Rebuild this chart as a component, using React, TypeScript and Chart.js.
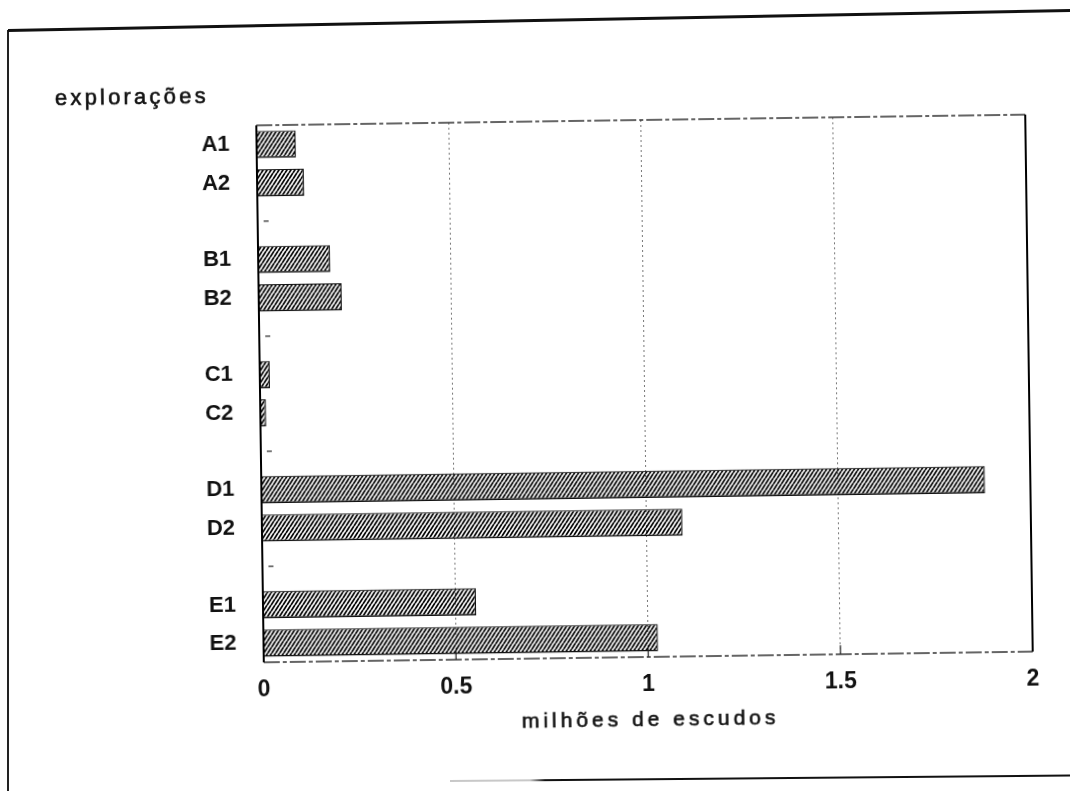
import React, { useEffect, useRef } from 'react';
import { Chart, registerables } from 'chart.js';

Chart.register(...registerables);

// ---- data ----
const categories = ['A1', 'A2', '', 'B1', 'B2', '', 'C1', 'C2', '', 'D1', 'D2', '', 'E1', 'E2'];
const values: (number | null)[] = [0.102, 0.122, null, 0.187, 0.216, null, 0.026, 0.015, null, 1.882, 1.094, null, 0.554, 1.026];
const xTickValues = [0, 0.5, 1, 1.5, 2];
const xTickLabels = ['0', '0.5', '1', '1.5', '2'];
const yAxisTitle = 'explorações';
const xAxisTitle = 'milhões de escudos';

const FONT = "'Liberation Sans', Arial, Helvetica, sans-serif";

function makeHatch(): CanvasPattern | string {
  const c = document.createElement('canvas');
  c.width = 4;
  c.height = 6;
  const g = c.getContext('2d');
  if (!g) return '#555';
  g.strokeStyle = '#000';
  g.lineWidth = 1.75;
  g.beginPath();
  for (const dx of [-4, 0, 4]) {
    g.moveTo(dx, 6);
    g.lineTo(dx + 4, 0);
  }
  g.stroke();
  return g.createPattern(c, 'repeat') || '#555';
}

const framePlugin = {
  id: 'scanFrame',
  afterDatasetsDraw(chart: any) {
    const { ctx, chartArea: a, scales } = chart;
    ctx.save();
    // small marks at the empty category slots
    ctx.strokeStyle = '#222';
    ctx.lineWidth = 1.2;
    categories.forEach((c, i) => {
      if (c === '') {
        const y = scales.y.getPixelForValue(i);
        ctx.beginPath();
        ctx.moveTo(a.left + 6, y);
        ctx.lineTo(a.left + 11, y);
        ctx.stroke();
      }
    });
    // short inner ticks on the bottom axis
    xTickValues.forEach((v) => {
      if (v > xTickValues[0] && v < xTickValues[xTickValues.length - 1]) {
        const x = scales.x.getPixelForValue(v);
        ctx.beginPath();
        ctx.moveTo(x, a.bottom);
        ctx.lineTo(x, a.bottom - 9);
        ctx.stroke();
      }
    });
    // top and bottom of the plot box
    ctx.strokeStyle = '#333';
    ctx.lineWidth = 1.3;
    ctx.setLineDash([16, 3, 4, 3]);
    ctx.beginPath();
    ctx.moveTo(a.left, a.top);
    ctx.lineTo(a.right, a.top);
    ctx.moveTo(a.left, a.bottom);
    ctx.lineTo(a.right, a.bottom);
    ctx.stroke();
    // left and right of the plot box
    ctx.setLineDash([]);
    ctx.strokeStyle = '#000';
    ctx.lineWidth = 2;
    ctx.beginPath();
    ctx.moveTo(a.left, a.top);
    ctx.lineTo(a.left, a.bottom);
    ctx.moveTo(a.right, a.top);
    ctx.lineTo(a.right, a.bottom);
    ctx.stroke();
    ctx.restore();
  },
};

export default function App() {
  const ref = useRef<HTMLCanvasElement | null>(null);

  useEffect(() => {
    if (!ref.current) return;
    const hatch = makeHatch();
    const chart = new Chart(ref.current, {
      type: 'bar',
      data: {
        labels: categories,
        datasets: [
          {
            data: values as any,
            backgroundColor: hatch as any,
            borderColor: '#111',
            borderWidth: { top: 1, right: 1.2, bottom: 1.5, left: 0 } as any,
            borderSkipped: false as any,
            barPercentage: 0.71,
            categoryPercentage: 1.0,
          },
        ],
      },
      options: {
        indexAxis: 'y',
        animation: false,
        responsive: false,
        devicePixelRatio: 1,
        layout: { padding: { top: 120, right: 41, left: 0, bottom: 0 } },
        plugins: {
          legend: { display: false },
          tooltip: { enabled: false },
          title: { display: false },
        },
        scales: {
          x: {
            type: 'linear',
            position: 'bottom',
            min: 0,
            max: 2,
            afterBuildTicks: (s: any) => {
              s.ticks = xTickValues.map((v) => ({ value: v }));
            },
            afterFit: (s: any) => {
              s.height = 134;
            },
            ticks: {
              callback: (_v: any, i: number) => xTickLabels[i],
              font: { family: FONT, size: 23, weight: 'bold' },
              color: '#111',
              padding: 14,
              maxRotation: 0,
              autoSkip: false,
            },
            grid: {
              drawTicks: false,
              color: (c: any) =>
                c.tick && (c.tick.value === 0 || c.tick.value === 2) ? 'rgba(0,0,0,0)' : '#777',
              lineWidth: 1,
            },
            border: { display: false, dash: [2, 3] },
          },
          y: {
            type: 'category',
            offset: true,
            afterFit: (s: any) => {
              s.width = 260;
            },
            ticks: {
              font: { family: FONT, size: 22, weight: 'bold' },
              color: '#111',
              padding: 27,
              autoSkip: false,
            },
            grid: { display: false, drawTicks: false },
            border: { display: false },
          },
        },
      } as any,
      plugins: [framePlugin],
    });
    return () => chart.destroy();
  }, []);

  const textStyle: React.CSSProperties = {
    position: 'absolute',
    fontFamily: FONT,
    color: '#111',
    whiteSpace: 'nowrap',
    WebkitTextStroke: '0.6px #111',
  };

  return (
    <div
      style={{
        position: 'absolute',
        left: 0,
        top: 0,
        width: 1070,
        height: 791,
        overflow: 'hidden',
        background: '#fff',
      }}
    >
      {/* scanned page frame */}
      <div style={{ position: 'absolute', left: 7, top: 30, width: 2, height: 761, background: '#222' }} />
      <div
        style={{
          position: 'absolute',
          left: 8,
          top: 29,
          width: 1075,
          height: 2.5,
          background: '#111',
          transformOrigin: '0 50%',
          transform: 'rotate(-1.08deg)',
        }}
      />
      <div
        style={{
          position: 'absolute',
          left: 450,
          top: 780,
          width: 640,
          height: 2,
          background: 'linear-gradient(to right, #c8c8c8 0px, #c8c8c8 80px, #111 95px)',
          transformOrigin: '0 50%',
          transform: 'rotate(-0.5deg)',
        }}
      />
      <div
        style={{
          position: 'absolute',
          left: 0,
          top: 0,
          width: 1070,
          height: 791,
          transformOrigin: '644px 388px',
          transform: 'rotate(-0.8deg)',
        }}
      >
        <canvas ref={ref} width={1070} height={791} style={{ display: 'block', width: 1070, height: 791 }} />
        <div
          style={{
            ...textStyle,
            left: 59,
            top: 79,
            fontSize: 22,
            lineHeight: '22px',
            letterSpacing: '3.2px',
          }}
        >
          {yAxisTitle}
        </div>
        <div
          style={{
            ...textStyle,
            left: 444,
            top: 708,
            width: 400,
            textAlign: 'center',
            paddingLeft: 4,
            boxSizing: 'border-box',
            fontSize: 21,
            lineHeight: '21px',
            letterSpacing: '4px',
          }}
        >
          {xAxisTitle}
        </div>
      </div>
    </div>
  );
}
